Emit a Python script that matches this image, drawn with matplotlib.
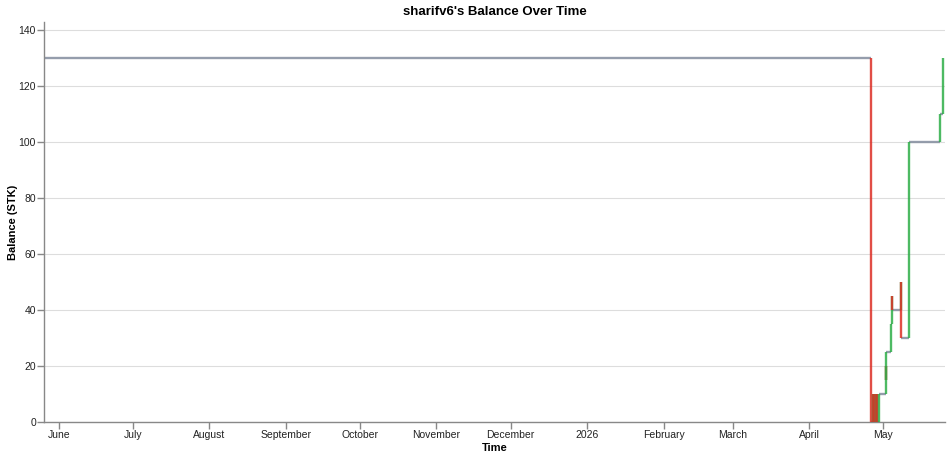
import numpy as np
import pandas as pd
import matplotlib
matplotlib.use("Agg")
from matplotlib import pyplot as plt
import matplotlib.dates as mdates

plt.rcParams["font.family"] = ["Liberation Sans", "DejaVu Sans"]

# balance history (time of each change, balance after it)
times = [
    "2025-05-26 00:00",
    "2026-04-26 04:00",
    "2026-04-26 18:00", "2026-04-26 20:00",
    "2026-04-27 08:00", "2026-04-27 10:00",
    "2026-04-27 21:00", "2026-04-27 23:00",
    "2026-04-28 10:00", "2026-04-28 12:00",
    "2026-04-29 04:00",
    "2026-05-02 00:00", "2026-05-02 01:00", "2026-05-02 02:00",
    "2026-05-04 06:00", "2026-05-04 08:00", "2026-05-04 10:00", "2026-05-04 11:00",
    "2026-05-08 06:00", "2026-05-08 07:00", "2026-05-08 09:00",
    "2026-05-11 12:00",
    "2026-05-24 00:00",
    "2026-05-25 04:00", "2026-05-25 06:00",
]
balance = [
    130,
    0,
    10, 0,
    10, 0,
    10, 0,
    10, 0,
    10,
    20, 15, 25,
    35, 40, 45, 40,
    50, 40, 30,
    100,
    110,
    120, 130,
]

month_ticks = ["2025-06-01", "2025-07-01", "2025-08-01", "2025-09-01", "2025-10-01",
               "2025-11-01", "2025-12-01", "2026-01-01", "2026-02-01", "2026-03-01",
               "2026-04-01", "2026-05-01"]
month_labels = ["June", "July", "August", "September", "October", "November",
                "December", "2026", "February", "March", "April", "May"]

x_start, x_end = "2025-05-26", "2026-05-26"

t = mdates.date2num(pd.to_datetime(times))
b = np.array(balance, dtype=float)

RED = "#dc2f26"
GREEN = "#2eae48"
GRAY = "#8a93a3"

fig = plt.figure(figsize=(9.51, 4.59), dpi=100)
ax = fig.add_axes([44 / 951, 1 - 422 / 459, 901 / 951, 400 / 459])

lw = 1.7
# horizontal parts of the step line
for i in range(len(t) - 1):
    ax.plot([t[i], t[i + 1]], [b[i], b[i]], color=GRAY, lw=lw, alpha=0.9,
            solid_capstyle="butt", zorder=2)
# vertical parts, coloured by the direction of the change
for i in range(1, len(t)):
    c = GREEN if b[i] > b[i - 1] else RED
    ax.plot([t[i], t[i]], [b[i - 1], b[i]], color=c, lw=lw, alpha=0.85,
            solid_capstyle="butt", zorder=3)

ax.set_xlim(mdates.date2num(pd.Timestamp(x_start)), mdates.date2num(pd.Timestamp(x_end)))
ax.set_ylim(0, max(balance) * 1.1)

ax.set_xticks(mdates.date2num(pd.to_datetime(month_ticks)))
ax.set_xticklabels(month_labels)
ax.set_yticks(np.arange(0, 141, 20))

for s in ["top", "right"]:
    ax.spines[s].set_visible(False)
for s in ["left", "bottom"]:
    ax.spines[s].set_color("#888888")
    ax.spines[s].set_linewidth(1)

ax.tick_params(axis="both", length=5, width=1, color="#888888", labelsize=7.5,
               labelcolor="#222222")
ax.tick_params(axis="x", pad=0.8)
ax.tick_params(axis="y", pad=0.8)
ax.grid(axis="y", color="#dddddd", lw=0.8)
ax.set_axisbelow(True)

ax.set_xlabel("Time", fontsize=8, fontweight="bold")
ax.set_ylabel("Balance (STK)", fontsize=8, fontweight="bold")
ax.xaxis.set_label_coords(0.5, -0.0525)
ax.yaxis.set_label_coords(-0.029, 0.5)
ax.set_title("sharifv6's Balance Over Time", fontsize=9.5, fontweight="bold", pad=5)

fig.savefig("out.png", dpi=100)
